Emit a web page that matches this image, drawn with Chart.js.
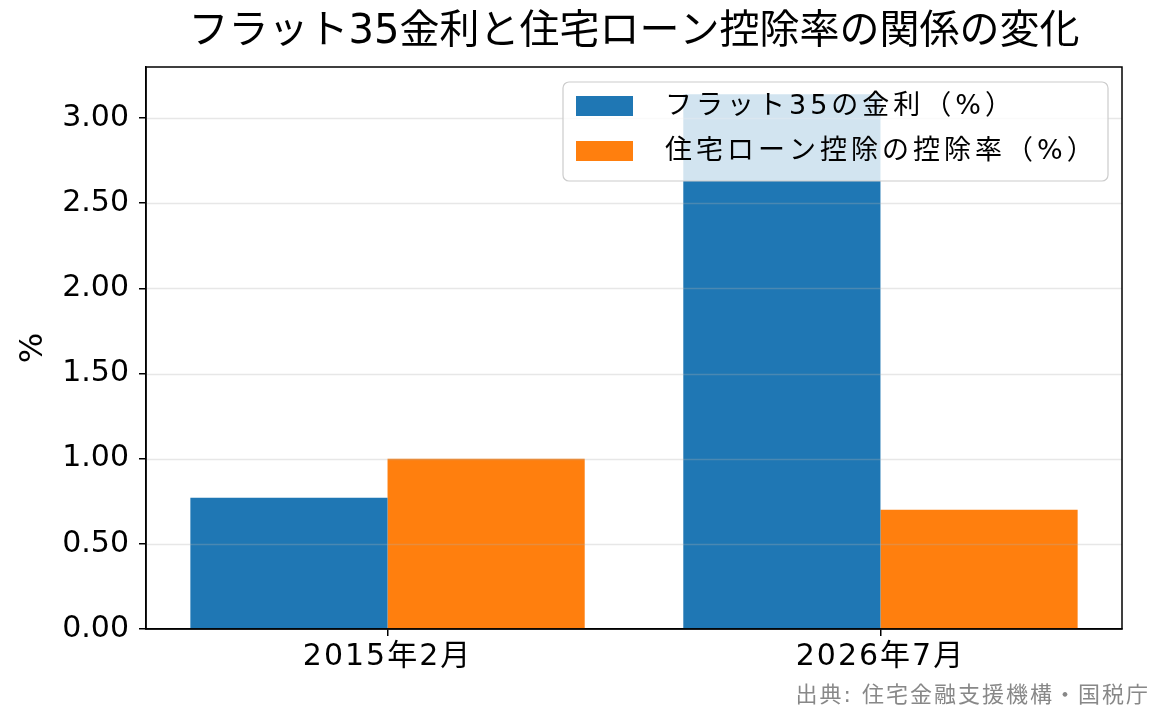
<!DOCTYPE html>
<html>
<head>
<meta charset="utf-8">
<script src="https://cdn.jsdelivr.net/npm/chart.js@4/dist/chart.umd.min.js"></script>
<style>
  html, body { margin: 0; padding: 0; background: #fff; }
  #wrap { width: 1165px; height: 725px; }
</style>
</head>
<body>
<div id="wrap"><canvas id="c" width="1165" height="725"></canvas></div>
<script>
// data
const categories = ['2015年2月', '2026年7月'];
const flat35Rate = [0.77, 3.14];
const deductionRate = [1.00, 0.70];
const seriesNames = ['フラット35の金利（%）', '住宅ローン控除の控除率（%）'];
const titleText = 'フラット35金利と住宅ローン控除率の関係の変化';
const sourceText = '出典: 住宅金融支援機構・国税庁';

const FONT = '"DejaVu Sans", "Noto Sans CJK JP", sans-serif';
const BLUE = '#1f77b4';
const ORANGE = '#ff7f0e';

// grid over the bars, frame, title, legend, source note
const decor = {
  id: 'decor',
  afterLayout(chart) {
    // category labels are spaced a little wider in the original
    const sx = chart.scales.x;
    if (!sx._spaced) {
      const orig = sx.drawLabels.bind(sx);
      sx.drawLabels = area => {
        chart.ctx.save();
        chart.ctx.letterSpacing = '2px';
        orig(area);
        chart.ctx.restore();
      };
      sx._spaced = true;
    }
  },
  afterDatasetsDraw(chart) {
    const ctx = chart.ctx, a = chart.chartArea, y = chart.scales.y;
    ctx.save();
    ctx.strokeStyle = 'rgba(176,176,176,0.3)';
    ctx.lineWidth = 1.3;
    y.ticks.forEach(t => {
      if (t.value === 0) return;
      const py = Math.round(y.getPixelForValue(t.value)) + 0.5;
      ctx.beginPath();
      ctx.moveTo(a.left, py);
      ctx.lineTo(a.right, py);
      ctx.stroke();
    });
    ctx.restore();
  },
  afterDraw(chart) {
    const ctx = chart.ctx, a = chart.chartArea;
    ctx.save();
    // frame
    ctx.strokeStyle = '#000';
    ctx.lineWidth = 1.5;
    ctx.strokeRect(a.left, a.top, a.right - a.left, a.bottom - a.top);

    // title
    ctx.fillStyle = '#000';
    ctx.letterSpacing = '0px';
    ctx.font = '40px ' + FONT;
    ctx.textAlign = 'center';
    ctx.textBaseline = 'middle';
    ctx.fillText(titleText, (a.left + a.right) / 2, 33);

    // legend box
    const bx = 563, by = 82, bw = 545, bh = 99, r = 6;
    ctx.beginPath();
    ctx.roundRect(bx, by, bw, bh, r);
    ctx.fillStyle = 'rgba(255,255,255,0.8)';
    ctx.fill();
    ctx.strokeStyle = '#cccccc';
    ctx.lineWidth = 1.2;
    ctx.stroke();
    const colors = [BLUE, ORANGE];
    ctx.font = '27px ' + FONT;
    ctx.letterSpacing = '4px';
    ctx.textAlign = 'left';
    seriesNames.forEach((name, i) => {
      const cy = 106 + i * 45;
      ctx.fillStyle = colors[i];
      ctx.fillRect(576, cy - 10, 57, 20);
      ctx.fillStyle = '#000';
      ctx.fillText(name, 665, cy + 1);
    });

    // source note
    ctx.fillStyle = '#888888';
    ctx.font = '22px ' + FONT;
    ctx.letterSpacing = '2px';
    ctx.textAlign = 'right';
    ctx.fillText(sourceText, 1150, 696);
    ctx.restore();
  }
};

new Chart(document.getElementById('c').getContext('2d'), {
  type: 'bar',
  data: {
    labels: categories,
    datasets: [
      { label: seriesNames[0], data: flat35Rate.map((v, i) => ({ x: i, y: v })), backgroundColor: BLUE },
      { label: seriesNames[1], data: deductionRate.map((v, i) => ({ x: i, y: v })), backgroundColor: ORANGE }
    ]
  },
  options: {
    responsive: false,
    animation: false,
    devicePixelRatio: 1,
    categoryPercentage: 0.8,
    barPercentage: 1.0,
    layout: { padding: { left: 0, right: 43, top: 67, bottom: 0 } },
    plugins: {
      legend: { display: false },
      title: { display: false },
      tooltip: { enabled: false }
    },
    scales: {
      x: {
        type: 'linear',
        offset: false,
        min: -0.49,
        max: 1.49,
        afterFit: s => { s.height = 96; },
        afterBuildTicks: s => {
          s.ticks = categories.map((c, i) => ({ value: i }));
        },
        grid: { offset: false, drawOnChartArea: false, drawTicks: true, tickLength: 7, color: '#000', lineWidth: 1.5 },
        border: { display: true, color: '#000', width: 1.5 },
        ticks: {
          color: '#000',
          padding: 3,
          maxRotation: 0,
          font: { family: FONT, size: 30 },
          callback: v => categories[v]
        }
      },
      y: {
        min: 0,
        max: 3.3,
        afterFit: s => { s.width = 146; },
        afterBuildTicks: s => {
          s.ticks = s.ticks.filter(t => Math.abs(t.value * 2 - Math.round(t.value * 2)) < 1e-6);
        },
        grid: { drawOnChartArea: false, drawTicks: true, tickLength: 7, color: '#000', lineWidth: 1.5 },
        border: { display: true, color: '#000', width: 1.5 },
        ticks: {
          stepSize: 0.5,
          color: '#000',
          padding: 10,
          font: { family: FONT, size: 30 },
          callback: v => Number(v).toFixed(2)
        },
        title: {
          display: true,
          text: '%',
          color: '#000',
          font: { family: FONT, size: 32 },
          padding: { top: 14, bottom: 0 }
        }
      }
    }
  },
  plugins: [decor]
});
</script>
</body>
</html>
